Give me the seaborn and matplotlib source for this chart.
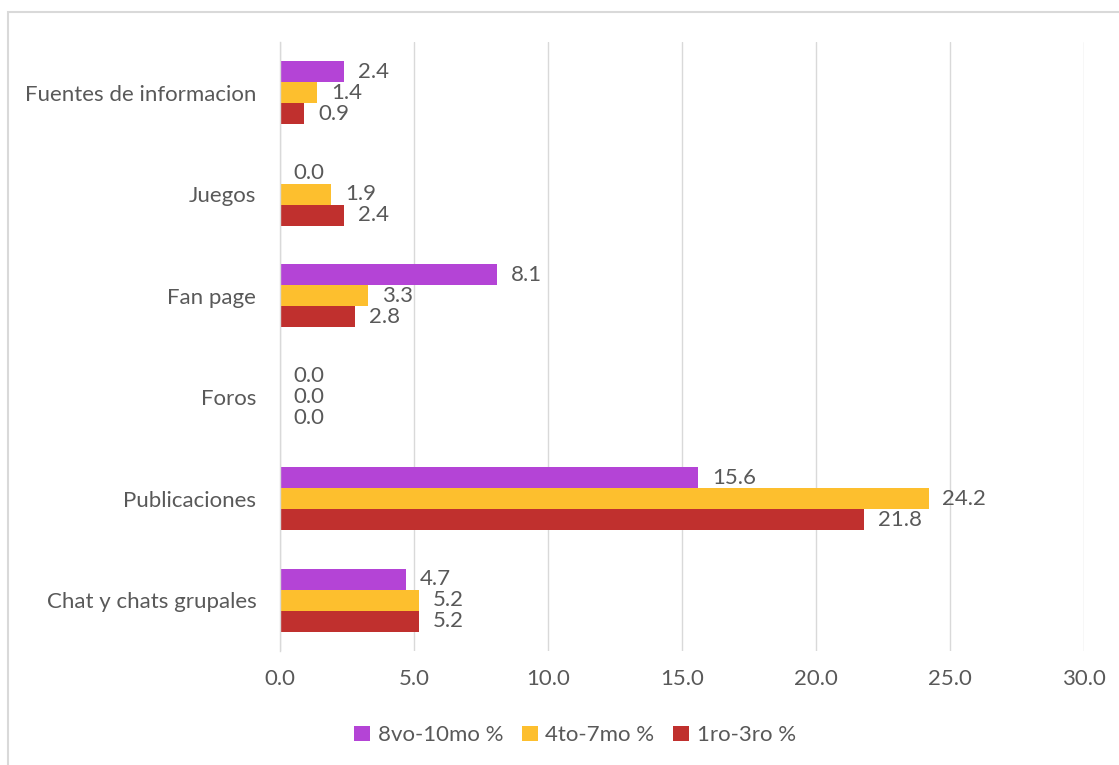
import matplotlib
matplotlib.use("Agg")
import matplotlib.pyplot as plt
import seaborn as sns
import pandas as pd
from matplotlib.patches import Rectangle

categories = ["Fuentes de informacion", "Juegos", "Fan page", "Foros",
              "Publicaciones", "Chat y chats grupales"]
series_names = ["8vo-10mo %", "4to-7mo %", "1ro-3ro %"]
vals_8_10 = [2.4, 0.0, 8.1, 0.0, 15.6, 4.7]
vals_4_7 = [1.4, 1.9, 3.3, 0.0, 24.2, 5.2]
vals_1_3 = [0.9, 2.4, 2.8, 0.0, 21.8, 5.2]
x_ticks = [0, 5, 10, 15, 20, 25, 30]

colors = ["#B444D6", "#FDBF2E", "#C0302E"]
text_color = "#595959"
fs = 16

sns.set_theme(style="white")
plt.rcParams["font.family"] = ["Lato", "DejaVu Sans"]

rows = []
for name, vals in zip(series_names, [vals_8_10, vals_4_7, vals_1_3]):
    for cat, v in zip(categories, vals):
        rows.append({"categoria": cat, "serie": name, "valor": v})
df = pd.DataFrame(rows)

fig = plt.figure(figsize=(11.19, 7.65), dpi=100)
ax = fig.add_axes([0.2502, 0.149, 0.7185, 0.796])

sns.barplot(data=df, y="categoria", x="valor", hue="serie",
            order=categories, hue_order=series_names,
            palette=colors, orient="h", width=0.62, gap=0,
            linewidth=0, saturation=1, ax=ax, legend=True)

for cont in ax.containers:
    ax.bar_label(cont, fmt="%.1f", padding=10, fontsize=fs,
                 color=text_color)

ax.set_xlim(0, 30)
ax.set_xticks(x_ticks)
ax.set_xticklabels([f"{t:.1f}" for t in x_ticks])
ax.set_xlabel("")
ax.set_ylabel("")
ax.grid(axis="x", color="#D9D9D9", linewidth=1)
ax.set_axisbelow(True)
for side in ["top", "right", "bottom"]:
    ax.spines[side].set_visible(False)
ax.spines["left"].set_color("#D9D9D9")
ax.spines["left"].set_linewidth(1)
ax.tick_params(axis="both", length=0, labelsize=fs, labelcolor=text_color)
ax.tick_params(axis="x", pad=13)
ax.tick_params(axis="y", pad=17)

handles, labels = ax.get_legend_handles_labels()
ax.legend_.remove()
fig.legend(handles, labels, loc="center", bbox_to_anchor=(0.514, 0.039),
           ncol=3, frameon=False, fontsize=fs, labelcolor=text_color,
           handlelength=0.7, handleheight=0.7, handletextpad=0.35,
           columnspacing=0.85)

# outer chart border
fig.patches.append(Rectangle((8 / 1119, -0.01), 1.2, 1 - 12 / 765 + 0.01,
                             transform=fig.transFigure, fill=False,
                             edgecolor="#D9D9D9", linewidth=1.5))

fig.savefig("out.png", dpi=100)
